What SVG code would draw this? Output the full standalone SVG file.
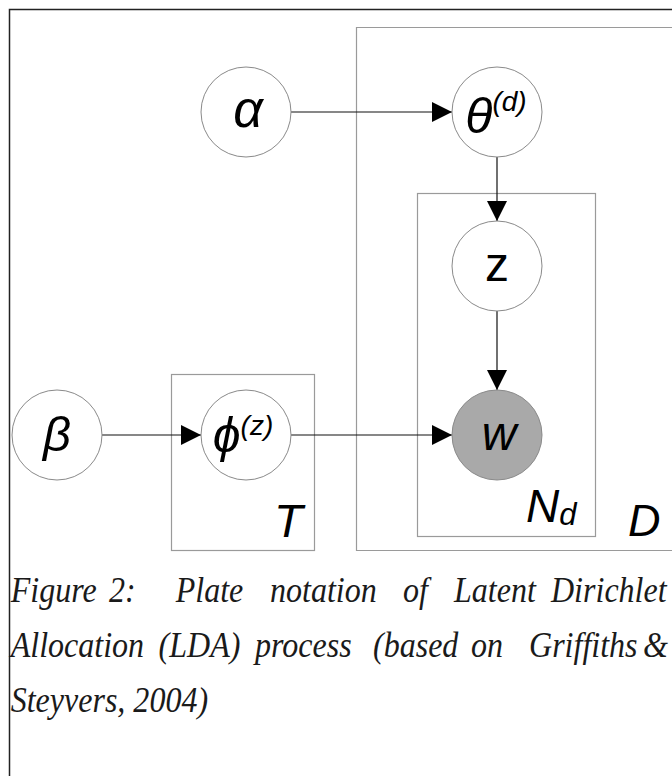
<svg xmlns="http://www.w3.org/2000/svg" width="672" height="776" viewBox="0 0 672 776">
<defs>
<marker id="ah" viewBox="0 0 20 20" refX="20" refY="10" markerWidth="20" markerHeight="20" markerUnits="userSpaceOnUse" orient="auto">
<path d="M0,0 L20,10 L0,20 Z" fill="#000"/>
</marker>
</defs>
<style>
.frame{fill:none;stroke:#222;stroke-width:1.5}
.plate{fill:none;stroke:#9a9a9a;stroke-width:1.2}
.node{fill:#fff;stroke:#8a8a8a;stroke-width:1}
.obs{fill:#a9a9a9;stroke:#8a8a8a;stroke-width:1}
.edge{stroke:#111;stroke-width:1.2;fill:none;marker-end:url(#ah)}
.lbl{font-family:"Liberation Sans",Arial,sans-serif;fill:#000}
.it{font-style:italic}
.cap{font-family:"Liberation Serif","Times New Roman",serif;font-style:italic;font-size:36px;fill:#1a1a1a}
</style>
<rect width="672" height="776" fill="#fff"/>
<path class="frame" d="M9.5,776 L9.5,9.5 L672,9.5"/>
<g id="plate-D"><path class="plate" d="M672,27.5 L356.5,27.5 L356.5,550.5 L672,550.5"/><text class="lbl it" x="628" y="536" font-size="45">D</text></g>
<g id="plate-Nd"><rect class="plate" x="417.5" y="193.5" width="178" height="343"/><text class="lbl it" x="526" y="522" font-size="46">N<tspan font-size="31" dy="3">d</tspan></text></g>
<g id="plate-T"><rect class="plate" x="171.5" y="374.5" width="143" height="176"/><text class="lbl it" x="274" y="537" font-size="47">T</text></g>
<g id="connectors">
<line class="edge" x1="291" y1="112" x2="452" y2="112"/>
<line class="edge" x1="497" y1="157" x2="497" y2="221"/>
<line class="edge" x1="497" y1="311" x2="497" y2="390"/>
<line class="edge" x1="102" y1="435" x2="201" y2="435"/>
<line class="edge" x1="291" y1="435" x2="452" y2="435"/>
</g>
<g id="alpha"><circle class="node" cx="246" cy="112" r="45"/><text class="lbl it" x="248" y="127" font-size="52" text-anchor="middle">α</text></g>
<g id="theta"><circle class="node" cx="497" cy="112" r="45"/><text class="lbl it" x="496" y="133" font-size="50" text-anchor="middle">θ<tspan font-size="28" dy="-22">(d)</tspan></text></g>
<g id="z"><circle class="node" cx="497" cy="266" r="45"/><text class="lbl" x="497" y="281" font-size="48" text-anchor="middle">z</text></g>
<g id="w"><circle class="obs" cx="497" cy="435" r="45"/><text class="lbl it" x="499" y="450" font-size="48" text-anchor="middle">w</text></g>
<g id="beta"><circle class="node" cx="57" cy="435" r="45"/><text class="lbl it" x="57" y="451" font-size="49" text-anchor="middle">β</text></g>
<g id="phi"><circle class="node" cx="246" cy="435" r="45"/><text class="lbl it" x="243" y="452" font-size="50" text-anchor="middle">ϕ<tspan font-size="28" dy="-17">(z)</tspan></text></g>
<g id="caption" transform="scale(0.89,1)">
<text class="cap" y="602"><tspan x="12">Figure</tspan><tspan x="122.5">2:</tspan><tspan x="197.4">Plate</tspan><tspan x="303.4">notation</tspan><tspan x="452.8">of</tspan><tspan x="510.1">Latent</tspan><tspan x="619.1">Dirichlet</tspan></text>
<text class="cap" y="657"><tspan x="12">Allocation</tspan><tspan x="178.2">(LDA)</tspan><tspan x="286.5">process</tspan><tspan x="419.1">(based</tspan><tspan x="529.2">on</tspan><tspan x="594.4">Griffiths</tspan><tspan x="722.5">&amp;</tspan></text>
<text class="cap" x="12" y="712">Steyvers, 2004)</text>
</g>
</svg>
